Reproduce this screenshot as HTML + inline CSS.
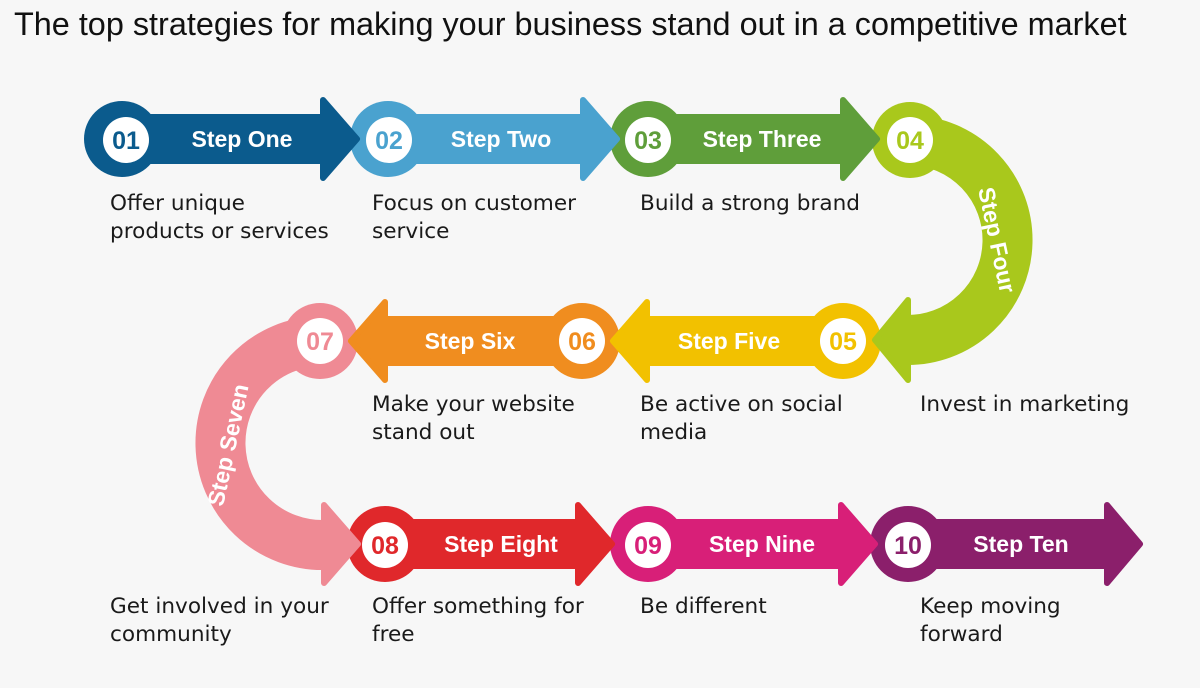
<!DOCTYPE html>
<html><head><meta charset="utf-8"><style>
body{margin:0;background:#f7f7f7;}
svg{display:block}
.t{font-family:"Liberation Sans",Arial,sans-serif;font-weight:bold;font-size:23px;fill:#fff}
.n{font-family:"Liberation Sans",Arial,sans-serif;font-weight:bold;font-size:25px}
.d{font-family:"DejaVu Sans","Liberation Sans",sans-serif;font-size:21.6px;fill:#1a1a1a}
</style></head><body>
<svg width="1200" height="688" viewBox="0 0 1200 688" xmlns="http://www.w3.org/2000/svg">
<rect width="1200" height="688" fill="#f7f7f7"/>
<text x="14" y="35" font-family="Liberation Sans,Arial,sans-serif" font-size="32.4" fill="#111">The top strategies for making your business stand out in a competitive market</text>

<g stroke-linejoin="round">
<circle cx="908" cy="544" r="38" fill="#8b1f6b"/>
<rect x="908" y="519" width="199" height="50" fill="#8b1f6b"/>
<polygon points="1107,505 1140,544 1107,583" fill="#8b1f6b" stroke="#8b1f6b" stroke-width="6"/>
<circle cx="648" cy="544" r="38" fill="#d81f78"/>
<rect x="648" y="519" width="193" height="50" fill="#d81f78"/>
<polygon points="841,505 875,544 841,583" fill="#d81f78" stroke="#d81f78" stroke-width="6"/>
<circle cx="385" cy="544" r="38" fill="#e0282b"/>
<rect x="385" y="519" width="193" height="50" fill="#e0282b"/>
<polygon points="578,505 612,544 578,583" fill="#e0282b" stroke="#e0282b" stroke-width="6"/>
<path d="M320,341 A102,102 0 0 0 325,545" fill="none" stroke="#ef8a94" stroke-width="50"/>
<circle cx="320" cy="341" r="38" fill="#ef8a94"/>
<polygon points="324,505 358,544 324,583" fill="#ef8a94" stroke="#ef8a94" stroke-width="6"/>
<circle cx="582" cy="341" r="38" fill="#f08d1f"/>
<rect x="385" y="316" width="197" height="50" fill="#f08d1f"/>
<polygon points="385,302 351,341 385,380" fill="#f08d1f" stroke="#f08d1f" stroke-width="6"/>
<circle cx="843" cy="341" r="38" fill="#f2c100"/>
<rect x="647" y="316" width="196" height="50" fill="#f2c100"/>
<polygon points="647,302 613,341 647,380" fill="#f2c100" stroke="#f2c100" stroke-width="6"/>
<path d="M910,140 A100,100 0 0 1 905,340" fill="none" stroke="#a9c81c" stroke-width="50"/>
<circle cx="910" cy="140" r="38" fill="#a9c81c"/>
<polygon points="908,300 875,340 908,380" fill="#a9c81c" stroke="#a9c81c" stroke-width="6"/>
<circle cx="648" cy="139" r="38" fill="#5f9e3a"/>
<rect x="648" y="114" width="195" height="50" fill="#5f9e3a"/>
<polygon points="843,100 877,139 843,178" fill="#5f9e3a" stroke="#5f9e3a" stroke-width="6"/>
<circle cx="388" cy="139" r="38" fill="#4aa2cf"/>
<rect x="388" y="114" width="195" height="50" fill="#4aa2cf"/>
<polygon points="583,100 617,139 583,178" fill="#4aa2cf" stroke="#4aa2cf" stroke-width="6"/>
<circle cx="122" cy="139" r="38" fill="#0b5b8d"/>
<rect x="122" y="114" width="201" height="50" fill="#0b5b8d"/>
<polygon points="323,100 357,139 323,178" fill="#0b5b8d" stroke="#0b5b8d" stroke-width="6"/>
</g>

<g fill="#fff">
<circle cx="126" cy="140" r="23"/><circle cx="389" cy="140" r="23"/><circle cx="648" cy="140" r="23"/><circle cx="910" cy="140" r="23"/>
<circle cx="843" cy="341" r="23"/><circle cx="582" cy="341" r="23"/><circle cx="320" cy="341" r="23"/>
<circle cx="385" cy="545" r="23"/><circle cx="648" cy="545" r="23"/><circle cx="908" cy="545" r="23"/>
</g>
<g class="n" text-anchor="middle">
<text x="126" y="149" fill="#0b5b8d">01</text><text x="389" y="149" fill="#4aa2cf">02</text><text x="648" y="149" fill="#5f9e3a">03</text><text x="910" y="149" fill="#a9c81c">04</text>
<text x="843" y="350" fill="#f2c100">05</text><text x="582" y="350" fill="#f08d1f">06</text><text x="320" y="350" fill="#ef8a94">07</text>
<text x="385" y="554" fill="#e0282b">08</text><text x="648" y="554" fill="#d81f78">09</text><text x="908" y="554" fill="#8b1f6b">10</text>
</g>
<g class="t" text-anchor="middle">
<text x="242" y="147">Step One</text><text x="501" y="147">Step Two</text><text x="762" y="147">Step Three</text>
<text x="729" y="349">Step Five</text><text x="470" y="349">Step Six</text>
<text x="501" y="552">Step Eight</text><text x="762" y="552">Step Nine</text><text x="1021" y="552">Step Ten</text>
<text transform="translate(997,240) rotate(78)" y="8">Step Four</text>
<text transform="translate(228,445) rotate(-78)" y="8">Step Seven</text>
</g>

<g class="d">
<text x="110" y="210">Offer unique</text><text x="110" y="238">products or services</text>
<text x="372" y="210">Focus on customer</text><text x="372" y="238">service</text>
<text x="640" y="210">Build a strong brand</text>
<text x="920" y="411">Invest in marketing</text>
<text x="640" y="411">Be active on social</text><text x="640" y="439">media</text>
<text x="372" y="411">Make your website</text><text x="372" y="439">stand out</text>
<text x="110" y="613">Get involved in your</text><text x="110" y="641">community</text>
<text x="372" y="613">Offer something for</text><text x="372" y="641">free</text>
<text x="640" y="613">Be different</text>
<text x="920" y="613">Keep moving</text><text x="920" y="641">forward</text>
</g>
</svg>
</body></html>
